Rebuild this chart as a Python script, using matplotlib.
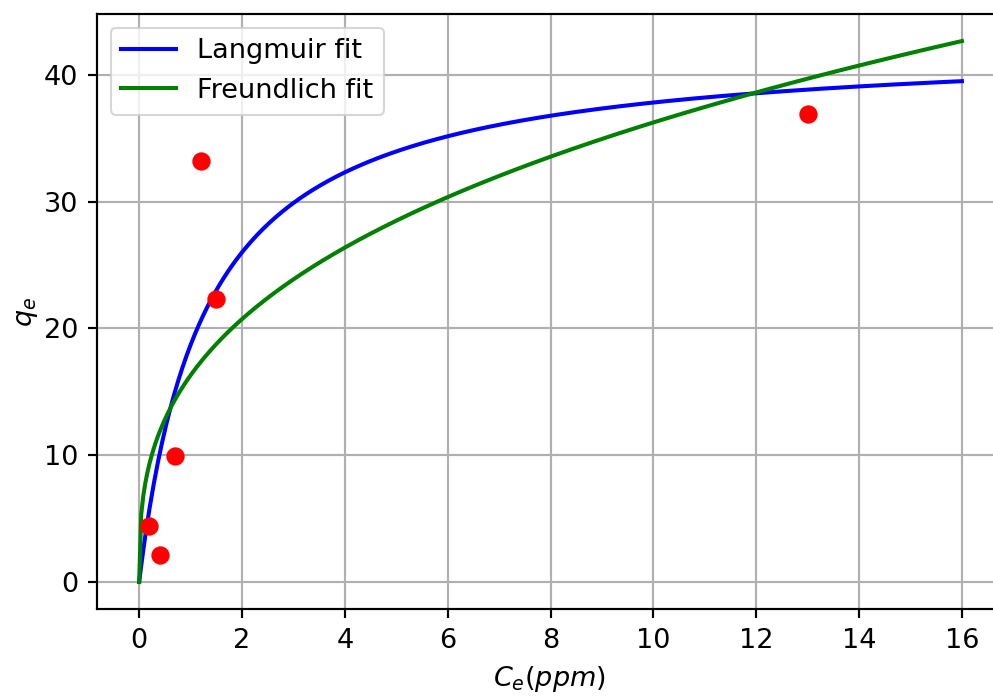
import numpy as np
import matplotlib.pyplot as plt

# measured data
ce_data = [0.2, 0.4, 0.7, 1.2, 1.5, 13.0]
qe_data = [4.4, 2.1, 9.9, 33.2, 22.3, 36.9]

# fitted parameters
Q_MAX = 42.66
K_L = 0.78
K_F = 16.3
N_INV = 0.347

S = 1.3  # the reference was drawn at a higher resolution
plt.rcParams.update({
    'font.size': 10 * S,
    'lines.linewidth': 1.5 * S,
    'axes.linewidth': 0.8 * S,
    'grid.linewidth': 0.8 * S,
    'xtick.major.width': 0.8 * S,
    'ytick.major.width': 0.8 * S,
    'xtick.major.size': 3.5 * S,
    'ytick.major.size': 3.5 * S,
    'xtick.major.pad': 3.5 * S,
    'ytick.major.pad': 3.5 * S,
})

ce = np.linspace(0, 16, 400)
q_lang = Q_MAX * K_L * ce / (1 + K_L * ce)
q_freu = K_F * ce ** N_INV

fig = plt.figure(figsize=(993 / 150, 696 / 150), dpi=150)
ax = fig.add_axes([97 / 993, 87 / 696, 905 / 993, 595 / 696])

ax.plot(ce, q_lang, color='blue', label='Langmuir fit')
ax.plot(ce, q_freu, color='green', label='Freundlich fit')
ax.plot(ce_data, qe_data, 'o', color='red', markersize=6 * S)

ax.set_xlim(-0.82, 16.78)
ax.set_xticks(np.arange(0, 17, 2))
ax.set_xlabel('$C_e(ppm)$', labelpad=5)
ax.set_ylabel('$q_e$', labelpad=2)
ax.grid(True)
ax.legend(loc='upper left')

fig.savefig('out.png', dpi=150)
